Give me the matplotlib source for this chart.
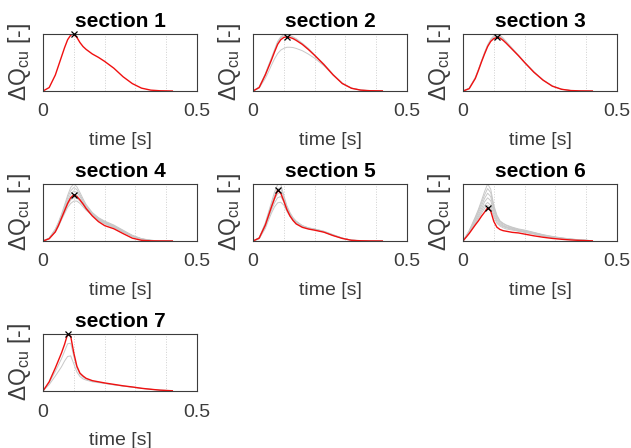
import matplotlib
matplotlib.use("Agg")
import matplotlib.pyplot as plt
import numpy as np

plt.rcParams['font.family'] = ['Liberation Sans', 'DejaVu Sans']
plt.rcParams['mathtext.fontset'] = 'custom'
plt.rcParams['mathtext.rm'] = 'Liberation Sans'
plt.rcParams['mathtext.it'] = 'Liberation Sans:italic'

# time samples [s], denser around the peak
t = [0, .02, .04, .05, .06, .07, .08, .09, .10, .11, .12, .13, .14,
     .16, .18, .20, .23, .26, .29, .32, .35, .38, .42]

# reference run (red) per section, normalised dQ_cu
s1_ref = [0, .06, .28, .44, .60, .76, .90, .98, 1.0, .94, .85, .78, .73,
          .65, .59, .52, .40, .25, .13, .05, .015, .004, 0]
s2_ref = [0, .06, .28, .41, .54, .68, .81, .89, .93, .94, .93, .91, .88,
          .81, .72, .62, .46, .28, .13, .047, .015, .005, .002]
s3_ref = [0, .04, .22, .36, .51, .65, .78, .87, .92, .94, .93, .89, .84,
          .73, .62, .50, .33, .19, .085, .03, .008, .002, 0]
s4_ref = [0, .04, .16, .27, .40, .53, .66, .76, .81, .78, .72, .65, .57,
          .44, .34, .27, .215, .13, .05, .012, .003, .001, 0]
s5_ref = [0, .05, .28, .44, .60, .75, .89, .84, .70, .55, .44, .36, .30,
          .24, .21, .19, .155, .095, .045, .012, .004, .001, 0]
s6_ref = [0, .13, .28, .35, .43, .50, .58, .52, .34, .24, .20, .18, .17,
          .15, .14, .12, .09, .065, .045, .03, .018, .01, .003]
s7_ref = [0, .16, .40, .53, .66, .81, .99, .95, .66, .43, .31, .26, .22,
          .18, .16, .14, .115, .09, .07, .047, .03, .015, .004]

# other runs (grey) per section
s1_runs = []
s2_runs = [
    [0, .05, .22, .33, .45, .56, .65, .71, .74, .76, .76, .755, .74,
     .70, .64, .57, .44, .28, .13, .05, .015, .005, .002],
    [0, .07, .30, .44, .58, .72, .86, .94, .98, .99, .97, .94, .91,
     .83, .74, .63, .47, .29, .135, .05, .016, .005, .002],
    [0, .065, .29, .43, .56, .70, .84, .92, .96, .97, .96, .93, .90,
     .82, .73, .62, .46, .285, .13, .048, .015, .005, .002],
]
s3_runs = [
    [0, .05, .24, .38, .53, .68, .81, .91, .97, 1.0, .98, .93, .87,
     .75, .63, .51, .34, .195, .09, .032, .009, .002, 0],
    [0, .045, .23, .37, .52, .66, .80, .89, .95, .97, .96, .91, .86,
     .74, .62, .50, .335, .19, .087, .031, .008, .002, 0],
]
s4_runs = [
    [0, .05, .21, .33, .47, .63, .80, .94, 1.0, .95, .85, .74, .64,
     .50, .41, .35, .28, .19, .10, .04, .012, .003, 0],
    [0, .05, .20, .31, .45, .60, .76, .88, .94, .90, .81, .71, .62,
     .49, .40, .34, .27, .18, .095, .04, .012, .003, 0],
    [0, .045, .19, .30, .43, .57, .71, .82, .88, .85, .78, .69, .60,
     .48, .39, .33, .26, .17, .09, .035, .01, .003, 0],
    [0, .045, .18, .28, .41, .54, .67, .77, .82, .80, .74, .66, .58,
     .47, .38, .32, .25, .165, .085, .03, .01, .003, 0],
    [0, .04, .17, .27, .39, .51, .63, .72, .76, .75, .70, .63, .56,
     .46, .37, .31, .24, .16, .08, .03, .01, .003, 0],
    [0, .04, .16, .25, .37, .48, .59, .66, .70, .70, .66, .60, .54,
     .45, .36, .30, .24, .155, .08, .03, .01, .003, 0],
]
s5_runs = [
    [0, .06, .32, .50, .68, .86, .99, 1.0, .80, .62, .50, .41, .35,
     .27, .23, .21, .17, .11, .05, .015, .004, .001, 0],
    [0, .05, .30, .47, .64, .80, .92, .93, .76, .60, .48, .40, .34,
     .27, .23, .21, .17, .11, .05, .015, .004, .001, 0],
    [0, .05, .27, .43, .58, .73, .83, .85, .72, .57, .46, .38, .33,
     .26, .22, .20, .16, .10, .05, .014, .004, .001, 0],
    [0, .04, .25, .40, .54, .67, .76, .78, .69, .55, .45, .37, .32,
     .26, .22, .20, .16, .10, .05, .014, .004, .001, 0],
    [0, .04, .22, .36, .49, .60, .67, .68, .63, .52, .43, .36, .31,
     .25, .22, .20, .16, .10, .05, .014, .004, .001, 0],
]
s6_runs = [
    [0, .18, .42, .55, .70, .86, .99, .90, .62, .45, .35, .31, .28,
     .24, .21, .19, .15, .11, .08, .055, .035, .02, .005],
    [0, .17, .40, .52, .66, .80, .91, .84, .59, .43, .34, .30, .27,
     .23, .20, .18, .145, .105, .075, .05, .033, .02, .005],
    [0, .16, .37, .49, .61, .74, .83, .77, .55, .40, .32, .28, .25,
     .22, .19, .17, .14, .10, .07, .05, .03, .018, .005],
    [0, .15, .35, .45, .56, .68, .75, .70, .51, .37, .30, .26, .24,
     .21, .18, .16, .13, .095, .07, .045, .03, .017, .005],
    [0, .14, .32, .42, .52, .62, .67, .62, .46, .34, .28, .25, .23,
     .20, .175, .155, .125, .09, .065, .043, .028, .016, .005],
    [0, .14, .30, .39, .48, .57, .62, .57, .42, .31, .26, .23, .21,
     .19, .17, .15, .12, .085, .06, .04, .026, .015, .004],
]
s7_runs = [
    [0, .14, .34, .45, .56, .69, .82, .83, .60, .40, .29, .24, .21,
     .17, .155, .135, .11, .088, .068, .046, .03, .015, .004],
    [0, .11, .26, .34, .42, .52, .60, .61, .47, .33, .25, .21, .19,
     .16, .145, .13, .105, .085, .065, .045, .03, .015, .004],
]

refs = [s1_ref, s2_ref, s3_ref, s4_ref, s5_ref, s6_ref, s7_ref]
runs = [s1_runs, s2_runs, s3_runs, s4_runs, s5_runs, s6_runs, s7_runs]

txt = '#3c3c3c'
fig = plt.figure(figsize=(6.31, 4.48), dpi=100)
lefts = [43, 253, 463]
tops = [34, 184, 334]
W, H = 154, 57

for k in range(7):
    r, c = divmod(k, 3)
    ax = fig.add_axes([lefts[c] / 631, (448 - tops[r] - H) / 448, W / 631, H / 448])
    for run in runs[k]:
        ax.plot(t, run, color='#c8c8c8', lw=0.7)
    ref = np.array(refs[k])
    ax.plot(t, ref, color='#f01010', lw=1.0)
    i = int(np.argmax(ref))
    ax.plot(t[i], ref[i], 'x', color='k', ms=5, mew=0.9, clip_on=False, zorder=5)

    ymax = max([max(ref)] + [max(x) for x in runs[k]])
    ax.set_xlim(0, 0.5)
    ax.set_ylim(0, ymax)
    ax.set_xticks([0, 0.1, 0.2, 0.3, 0.4, 0.5])
    ax.set_xticklabels(['0', '', '', '', '', '0.5'])
    ax.set_yticks([])
    ax.xaxis.grid(True, ls=':', color='#d0d0d0', lw=0.7)
    ax.tick_params(axis='x', length=0, pad=9, labelsize=14, colors=txt)
    for s in ax.spines.values():
        s.set_color('#3c3c3c')
        s.set_linewidth(0.8)
    ax.set_title('section %d' % (k + 1), fontsize=15, fontweight='bold', pad=5)
    ax.set_xlabel('time [s]', fontsize=14, color=txt, labelpad=8)
    ax.set_ylabel(r'ΔQ$_{\mathrm{cu}}$ [-]', fontsize=16.5, color=txt, labelpad=7)

fig.savefig('out.png', dpi=100)
